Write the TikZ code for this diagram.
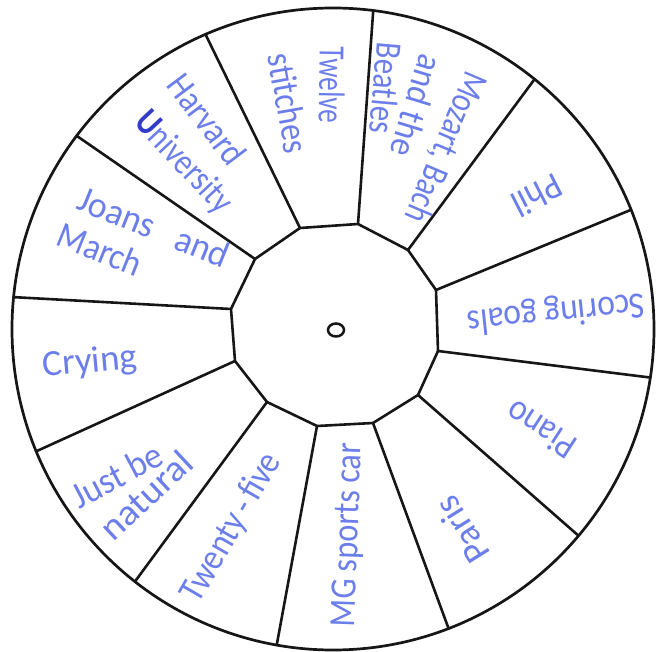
\documentclass[tikz,border=0pt]{standalone}
\usepackage{fontspec}
\setmainfont{Carlito}
\usepackage{graphicx}
\definecolor{ink}{RGB}{108,126,234}
\definecolor{inkdark}{RGB}{50,60,200}
\definecolor{pen}{RGB}{22,22,22}
\newcommand\fitw[2]{\resizebox{#1pt}{\height}{#2}}
\tikzset{
  lbl/.style={text=ink, font=\fontsize{37}{40}\selectfont, inner sep=0pt, anchor=center},
  edge/.style={draw=pen, line width=2.6pt, line cap=round, line join=round}
}
\begin{document}
\begin{tikzpicture}[x=1pt,y=-1pt]
\useasboundingbox (0,0) rectangle (656,652);
\coordinate (C) at (333,329);
\draw[edge, line width=2.7pt] (C) circle[radius=321pt];
% inner dodecagon vertices
\coordinate (i1) at (358,224);
\coordinate (i2) at (408,250);
\coordinate (i3) at (436,290);
\coordinate (i4) at (438,351);
\coordinate (i5) at (418,395);
\coordinate (i6) at (373,423);
\coordinate (i7) at (317,426);
\coordinate (i8) at (267,402);
\coordinate (i9) at (235,361);
\coordinate (i10) at (231,309);
\coordinate (i11) at (255,259);
\coordinate (i12) at (300,228);
\draw[edge, line join=miter] (i1) -- (i2) -- (i3) -- (i4) -- (i5) -- (i6) -- (i7) -- (i8) -- (i9) -- (i10) -- (i11) -- (i12) -- cycle;
% outer spoke ends
\foreach \k/\a in {1/-82.8,2/-51.1,3/-21.8,4/8.7,5/40.1,6/68.9,7/100.1,8/128.1,9/157.6,10/185.7,11/217,12/246.6}{
  \path (C) ++(\a:321) coordinate (o\k);
  \draw[edge] (i\k) -- (o\k);
}
% centre hole
\draw[draw=pen, line width=2.5pt] (336,330) ellipse[x radius=8pt, y radius=6.5pt];
% labels
\node[lbl, rotate=-91] (t1) at (332,85) {\fitw{76}{Twelve}};
\node[lbl, rotate=-80] (t2) at (289,103) {\fitw{100}{stitches}};
\node[lbl, rotate=-113] (m1) at (445,147) {\fitw{160}{Mozart, Bach}};
\node[lbl, rotate=-107] (m2) at (417,106) {\fitw{104}{and the}};
\node[lbl, rotate=-95] (m3) at (386,88) {\fitw{91}{Beatles}};
\node[lbl, rotate=207] (p1) at (537,196) {\fitw{52}{Phil}};
\node[lbl, rotate=186] (s1) at (556,312) {\fitw{178}{Scoring goals}};
\node[lbl, rotate=147] (pi) at (541,430) {\fitw{76}{Piano}};
\node[lbl, rotate=122] (pa) at (462,530) {\fitw{72}{Paris}};
\node[lbl, rotate=88] (mg) at (349,535) {\fitw{184}{MG sports car}};
\node[lbl, rotate=60] (tf) at (232,528) {\fitw{166}{Twenty\,-\,five}};
\node[lbl, rotate=28] (j1) at (117,475) {\fitw{98}{Just be}};
\node[lbl, rotate=43] (j2) at (146,495) {\fitw{112}{natural}};
\node[lbl, rotate=5] (cr) at (90,363) {\fitw{95}{Crying}};
\node[lbl, rotate=-22] (jo1) at (154,227) {\fitw{160}{Joans\hspace{0.7em}and}};
\node[lbl, rotate=-22] (jo2) at (100,249) {\fitw{88}{March}};
\node[lbl, rotate=-53] (h1) at (207,119) {\fitw{104}{Harvard}};
\node[lbl, rotate=-47] (h2) at (183,163) {\fitw{125}{{\color{inkdark}\textbf{U}}niversity}};
\end{tikzpicture}
\end{document}
